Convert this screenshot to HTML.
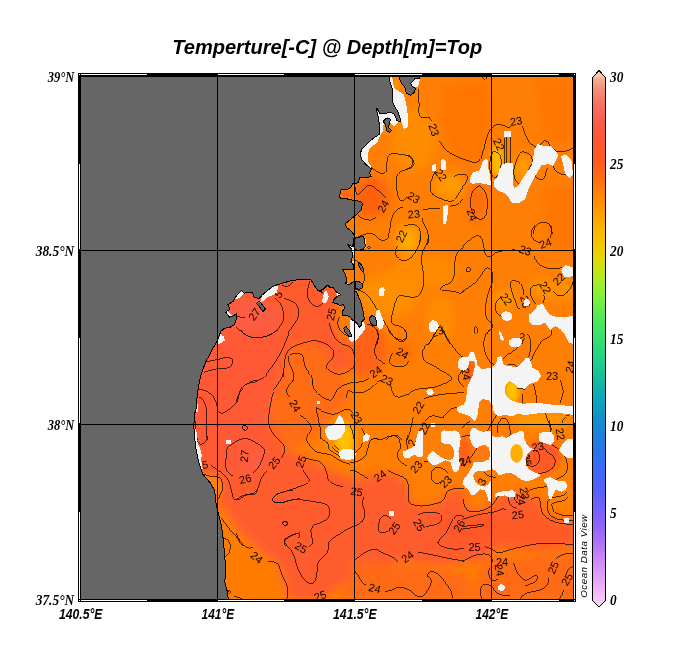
<!DOCTYPE html>
<html><head><meta charset="utf-8"><title>Temperture[-C] @ Depth[m]=Top</title>
<style>
html,body{margin:0;padding:0;background:#fff}
body{width:684px;height:660px;overflow:hidden;position:relative;font-family:"Liberation Sans",sans-serif}
svg{position:absolute;left:0;top:0;display:block}
.ax{font-family:"Liberation Serif",serif;font-weight:bold;font-style:italic;font-size:15px;fill:#000}
.xl{font-family:"Liberation Sans",sans-serif;font-weight:bold;font-style:italic;font-size:14px;fill:#000}
.cl{font-family:"Liberation Sans",sans-serif;font-size:11px;fill:#100000}
.ti{font-family:"Liberation Sans",sans-serif;font-weight:bold;font-style:italic;font-size:20px;fill:#000}
.odv{font-family:"Liberation Sans",sans-serif;font-style:italic;font-size:9.8px;fill:#000}
</style></head><body>
<svg style="will-change:transform" width="684" height="660" viewBox="0 0 684 660">
<defs>
<clipPath id="mc"><rect x="81" y="76" width="492" height="523"/></clipPath>
<filter id="bl" x="-20%" y="-20%" width="140%" height="140%"><feGaussianBlur stdDeviation="5"/></filter>
<filter id="bs" x="-20%" y="-20%" width="140%" height="140%"><feGaussianBlur stdDeviation="2.5"/></filter>
<linearGradient id="cb" x1="0" y1="0" x2="0" y2="1">
<stop offset="0.0000" stop-color="#F5CDA5"/><stop offset="0.0133" stop-color="#F5B496"/><stop offset="0.0333" stop-color="#F4907A"/><stop offset="0.0667" stop-color="#F76E5E"/><stop offset="0.1000" stop-color="#FA5A46"/><stop offset="0.1333" stop-color="#FF5630"/><stop offset="0.1667" stop-color="#FF5A20"/><stop offset="0.2000" stop-color="#FF6C10"/><stop offset="0.2333" stop-color="#FF8604"/><stop offset="0.2667" stop-color="#FF9E00"/><stop offset="0.3000" stop-color="#FAB800"/><stop offset="0.3333" stop-color="#F0CC00"/><stop offset="0.3567" stop-color="#DCDC0C"/><stop offset="0.3833" stop-color="#B4EC1C"/><stop offset="0.4167" stop-color="#84F234"/><stop offset="0.4500" stop-color="#5CEC50"/><stop offset="0.4833" stop-color="#40E468"/><stop offset="0.5167" stop-color="#2CDA7C"/><stop offset="0.5500" stop-color="#1CCC90"/><stop offset="0.5833" stop-color="#10B8A8"/><stop offset="0.6167" stop-color="#0CA4BC"/><stop offset="0.6500" stop-color="#1090CC"/><stop offset="0.6833" stop-color="#1C80DC"/><stop offset="0.7167" stop-color="#2C72EC"/><stop offset="0.7500" stop-color="#4068F6"/><stop offset="0.7833" stop-color="#5860FA"/><stop offset="0.8167" stop-color="#7460FA"/><stop offset="0.8500" stop-color="#9064F8"/><stop offset="0.8833" stop-color="#B074F8"/><stop offset="0.9167" stop-color="#D08CF8"/><stop offset="0.9500" stop-color="#E8A4F8"/><stop offset="0.9767" stop-color="#F4BCF8"/><stop offset="1.0000" stop-color="#FAD4F8"/></linearGradient>
</defs>
<rect x="0" y="0" width="684" height="660" fill="#fff"/>
<g clip-path="url(#mc)">
<rect x="81" y="76" width="492" height="523" fill="#FF7E04"/>
<g id="field" filter="url(#bl)">

<!-- bay red -->
<polygon points="185,270 336,270 338,300 334,316 340,340 356,352 352,370 330,372 328,352 312,341 292,345 283,365 282,380 271,395 269,420 281,440 285,450 300,455 330,470 355,480 388,472 400,478 408,486 409,500 413,505 425,507 440,503 447,494 456,489 464,489 464,500 468,510 477,512 485,510 491,506 496,500 500,495 515,494 531,497 540,499 541,506 545,516 553,521 562,523 580,524 580,545 540,550 500,548 480,560 440,565 400,560 370,575 340,585 320,600 290,600 282,580 268,565 255,556 240,540 225,520 185,460" fill="#FF5C2E"/>
<ellipse cx="250" cy="318" rx="28" ry="22" fill="#FC5C42"/>
<ellipse cx="247" cy="455" rx="20" ry="20" fill="#FC5C42"/>
<polygon points="205,330 280,330 275,390 268,430 230,480 205,460 190,420 195,370" fill="#FF5A34"/>
<!-- lower band variations -->
<polygon points="220,500 240,532 260,550 278,563 290,602 215,602" fill="#FF7C06"/>
<polygon points="484,560 540,556 580,552 580,602 470,602" fill="#FF6A12"/>
<polygon points="355,560 400,565 440,570 470,575 470,602 340,602" fill="#FF6A14"/>
<ellipse cx="470" cy="528" rx="30" ry="12" fill="#FF5628"/>
<ellipse cx="530" cy="530" rx="40" ry="16" fill="#FF5A28"/>
<!-- middle orange 24 tongue -->
<polygon points="292,345 312,341 328,352 330,372 345,378 350,400 330,420 310,440 290,450 281,440 269,420 271,395 282,380 283,365" fill="#FF6C14"/>
<!-- upper right features -->
<ellipse cx="342" cy="437" rx="15" ry="19" fill="#FF9800"/>
<ellipse cx="366" cy="350" rx="20" ry="28" fill="#FF6216"/>
<ellipse cx="505" cy="300" rx="11" ry="10" fill="#FF9800"/>
<ellipse cx="540" cy="288" rx="10" ry="9" fill="#FF9600"/>
<ellipse cx="425" cy="272" rx="35" ry="16" fill="#FF8A00"/>
<ellipse cx="371" cy="197" rx="18" ry="20" fill="#FF6008"/>
<polygon points="442,87 487,80 490,120 480,161 455,161 445,130" fill="#FF7400"/>
<ellipse cx="477" cy="203" rx="9" ry="20" fill="#FF6C08"/>
<polygon points="536,80 580,80 580,140 545,140" fill="#FF7600"/>
<polygon points="543,190 580,185 580,255 550,250" fill="#FF7600"/>
<ellipse cx="449" cy="186" rx="15" ry="13" fill="#FF9A00"/>
<ellipse cx="408" cy="240" rx="13" ry="16" fill="#FFA000"/>
<ellipse cx="413" cy="140" rx="22" ry="32" fill="#FF8C00"/>
<ellipse cx="390" cy="295" rx="30" ry="22" fill="#FF8E00"/>
<ellipse cx="440" cy="318" rx="14" ry="22" fill="#FF8C00"/>
<ellipse cx="402" cy="353" rx="12" ry="11" fill="#FF7000"/>
<ellipse cx="523" cy="168" rx="8" ry="13" fill="#FF9E00"/>
<ellipse cx="560" cy="290" rx="18" ry="12" fill="#FF9000"/>
<ellipse cx="540" cy="420" rx="30" ry="8" fill="#FF9A00"/>
</g>
<g id="field2" filter="url(#bs)">

<polygon points="200,473 217.7,476.8 221.8,481 222.3,489.3 220.2,494.3 218.5,502.7 212,495 205,485" fill="#FF8408"/>
<ellipse cx="470.5" cy="372" rx="5" ry="12" fill="#FF5E14"/>
<ellipse cx="464" cy="452" rx="7" ry="15" fill="#FF6218"/>
<ellipse cx="481" cy="452" rx="8" ry="8" fill="#FF7810"/>
<ellipse cx="543" cy="457" rx="17" ry="17" fill="#FF5A28"/>
<ellipse cx="497" cy="160" rx="6" ry="16" fill="#FFBC00"/>
<ellipse cx="512" cy="391" rx="7" ry="11" fill="#FFC400"/>
<ellipse cx="345" cy="439" rx="9" ry="14" fill="#FFC000"/>
<ellipse cx="345" cy="194" rx="6" ry="5" fill="#FF6418"/>
<ellipse cx="408" cy="241" rx="6" ry="8" fill="#FFAC00"/>
<ellipse cx="383" cy="125" rx="3" ry="6" fill="#FFB000"/>
<ellipse cx="396" cy="86" rx="2" ry="9" fill="#FFA000"/>
</g>
<g id="cont" fill="none" stroke="#000" stroke-width="0.7" shape-rendering="crispEdges">
<path d="M418.0 88.8C418.2 91.0 418.7 97.9 419.0 102.5C419.3 107.1 418.2 113.8 419.8 116.2C421.3 118.8 426.5 116.7 428.5 117.5C430.5 118.3 431.2 120.6 431.8 121.2"/>
<path d="M439.8 141.2C440.8 142.7 443.3 147.5 446.0 150.0C448.7 152.5 452.5 154.5 456.0 156.2C459.5 158.0 463.9 159.5 467.2 160.5C470.6 161.5 473.7 163.0 476.0 162.5C478.3 162.0 479.7 160.0 481.0 157.5C482.3 155.0 483.0 151.0 484.0 147.5C485.0 144.0 486.1 139.4 487.2 136.2C488.4 133.1 489.3 130.7 491.0 128.8C492.7 126.8 495.2 125.0 497.2 124.5C499.3 124.0 501.6 125.0 503.5 125.5C505.4 126.0 507.2 127.5 508.5 127.5C509.8 127.5 510.6 125.8 511.0 125.5"/>
<path d="M522.2 126.2C522.7 127.3 523.7 130.0 524.8 132.5C525.8 135.0 526.8 139.0 528.5 141.2C530.2 143.5 532.9 145.6 534.8 146.2C536.6 146.9 538.4 145.7 539.8 145.0C541.1 144.3 542.0 142.7 543.0 142.0C544.0 141.3 544.9 140.3 546.0 140.8C547.1 141.2 548.5 143.0 549.8 144.5C551.0 146.0 551.8 148.2 553.5 149.5C555.2 150.8 557.5 151.8 559.8 152.0C562.0 152.2 565.0 151.2 567.2 150.5C569.5 149.8 572.5 148.4 573.5 148.0"/>
<path d="M406.0 155.0C407.0 155.6 410.9 157.3 412.2 158.8C413.6 160.2 414.2 162.2 414.0 163.8C413.8 165.3 412.3 167.0 411.0 168.0C409.7 169.0 406.8 169.2 406.0 169.5"/>
<path d="M435.5 171.2C435.0 172.3 433.1 175.0 432.2 177.5C431.4 180.0 430.2 183.5 430.2 186.2C430.2 189.0 430.5 191.7 432.2 193.8C434.0 195.8 437.9 197.5 441.0 198.8C444.1 200.0 448.3 201.7 451.0 201.2C453.7 200.8 455.4 198.5 457.2 196.2C459.1 194.0 460.6 190.2 462.2 187.5C463.9 184.8 466.6 182.1 467.2 180.0C467.9 177.9 467.2 175.9 466.0 175.0C464.8 174.1 461.8 174.3 459.8 174.5C457.7 174.7 454.5 176.0 453.5 176.2"/>
<path d="M492.2 152.5C491.0 154.2 490.0 159.2 489.8 162.5C489.5 165.8 489.7 169.9 490.5 172.5C491.3 175.1 493.4 177.8 494.8 178.0C496.1 178.2 497.5 175.9 498.5 173.8C499.5 171.6 500.7 167.9 501.0 165.0C501.3 162.1 501.1 158.3 500.5 156.2C499.9 154.2 498.6 153.1 497.2 152.5C495.9 151.9 493.5 150.8 492.2 152.5Z"/>
<path d="M504.2 137.5 L504.2 163.8"/>
<path d="M506.8 136.2 L506.8 163.8"/>
<path d="M510.5 135.5 L510.5 163.8"/>
<path d="M521.0 152.5C519.5 153.5 518.4 156.0 517.2 158.8C516.1 161.5 514.4 165.4 514.0 168.8C513.6 172.1 513.8 176.1 514.8 178.8C515.7 181.4 518.1 183.9 519.8 184.5C521.4 185.1 523.3 184.9 524.8 182.5C526.2 180.1 527.2 173.3 528.5 170.0C529.8 166.7 531.8 164.8 532.2 162.5C532.7 160.2 532.0 157.9 531.0 156.2C530.0 154.6 527.7 153.1 526.0 152.5C524.3 151.9 522.5 151.5 521.0 152.5Z"/>
<path d="M534.8 176.2C535.8 176.9 539.3 180.0 541.0 180.0C542.7 180.0 543.7 178.3 544.8 176.2C545.8 174.2 546.8 169.0 547.2 167.5"/>
<path d="M553.5 166.2C553.9 167.1 554.5 169.9 556.0 171.2C557.5 172.6 560.6 173.9 562.2 174.5C563.9 175.1 565.4 174.9 566.0 175.0"/>
<path d="M478.5 186.2C477.2 187.0 474.3 189.0 473.0 191.2C471.7 193.5 470.8 196.9 470.5 200.0C470.2 203.1 470.6 207.1 471.5 210.0C472.4 212.9 474.2 216.0 476.0 217.5C477.8 219.0 480.5 220.1 482.2 219.2C484.0 218.4 485.7 215.7 486.5 212.5C487.3 209.3 487.5 203.5 487.2 200.0C487.0 196.5 485.8 193.5 484.8 191.2C483.7 189.0 482.0 187.6 481.0 186.8C480.0 185.9 479.8 185.5 478.5 186.2Z"/>
<path d="M449.8 206.2C451.0 206.0 455.0 205.8 457.2 204.5C459.5 203.2 462.0 199.7 463.0 198.8"/>
<path d="M533.5 233.8C533.7 232.7 533.7 229.3 534.8 227.5C535.8 225.7 537.9 223.8 539.8 223.0C541.6 222.2 544.1 222.0 546.0 222.5C547.9 223.0 550.0 224.4 551.0 226.2C552.0 228.1 552.0 232.5 552.2 233.8"/>
<path d="M482.2 77.0C482.7 77.4 483.9 79.5 484.8 79.5C485.6 79.5 486.8 77.4 487.2 77.0"/>
<path d="M371.4 167.5C372.3 168.2 374.7 170.2 376.5 171.2C378.4 172.2 380.8 173.5 382.4 173.4C384.0 173.3 385.3 172.2 386.1 170.5C386.8 168.8 386.4 165.5 386.8 163.2C387.1 160.8 387.4 158.2 388.2 156.6C389.1 155.0 390.2 154.1 391.9 153.7C393.6 153.2 396.2 153.8 398.5 154.1C400.8 154.3 403.7 154.7 405.8 155.1C407.9 155.5 409.7 155.6 410.9 156.6C412.1 157.6 412.7 159.4 412.8 161.0C412.9 162.5 412.6 164.7 411.6 166.1C410.7 167.4 409.0 168.2 407.3 169.0C405.5 169.9 403.0 170.3 401.4 171.2C399.8 172.1 398.6 172.8 397.7 174.1C396.9 175.5 396.5 176.9 396.3 179.2C396.1 181.6 396.5 185.3 396.7 188.0C397.0 190.7 397.1 193.3 397.7 195.3C398.4 197.4 399.6 199.7 400.7 200.4C401.8 201.2 403.2 200.3 404.3 199.7C405.4 199.1 406.8 197.3 407.3 196.8"/>
<path d="M355.4 187.3C355.5 188.1 355.6 191.2 356.1 192.4C356.6 193.6 357.3 194.8 358.3 194.6C359.2 194.3 360.6 192.3 361.9 190.9C363.3 189.6 365.0 187.5 366.3 186.5C367.7 185.6 368.5 184.8 370.0 185.1C371.4 185.3 373.3 186.7 375.1 188.0C376.9 189.4 379.2 191.5 380.9 193.1C382.6 194.7 384.6 196.8 385.3 197.5"/>
<path d="M358.3 215.8C359.1 216.3 361.4 218.0 363.4 218.7C365.3 219.4 368.1 220.2 370.0 220.2C371.8 220.1 373.3 219.0 374.4 218.4C375.5 217.8 376.2 216.8 376.5 216.5"/>
<path d="M388.2 237.7C388.5 236.3 389.2 231.9 389.7 228.9C390.2 226.0 390.3 223.0 391.2 220.2C392.0 217.4 393.5 214.1 394.8 212.1C396.2 210.1 397.9 208.9 399.2 208.2C400.6 207.5 402.3 207.8 402.9 207.7"/>
<path d="M423.3 209.6C424.6 209.5 427.9 209.0 430.6 208.8C433.4 208.5 438.4 208.3 440.0 208.2"/>
<path d="M421.9 218.0C422.2 219.1 423.2 222.5 424.1 224.6C424.9 226.6 426.3 228.2 427.0 230.4C427.7 232.6 428.3 235.3 428.5 237.7C428.6 240.2 427.8 243.8 427.7 245.0"/>
<path d="M404.3 226.0C405.3 225.8 408.2 224.7 410.2 224.6C412.1 224.4 414.4 224.4 416.0 225.3C417.6 226.1 418.9 227.9 419.7 229.7C420.4 231.5 420.4 233.7 420.4 236.3C420.4 238.8 419.8 243.6 419.7 245.0"/>
<path d="M354.6 237.7C355.4 237.5 357.4 236.7 359.0 236.3C360.6 235.8 362.4 235.3 364.1 234.8C365.8 234.3 367.5 233.3 369.2 233.3C370.9 233.3 372.7 233.8 374.4 234.8C376.1 235.8 377.9 238.2 379.5 239.2C381.1 240.2 382.4 240.9 383.9 240.6C385.3 240.4 387.5 238.2 388.2 237.7"/>
<path d="M397.5 245.8C397.1 246.8 395.3 249.7 395.3 251.7C395.3 253.6 396.2 256.0 397.5 257.5C398.8 259.0 401.2 260.7 403.3 260.8C405.4 261.0 407.9 259.9 410.0 258.3C412.1 256.8 414.3 254.0 415.8 251.7C417.4 249.3 418.3 246.9 419.2 244.2C420.0 241.4 420.6 236.5 420.8 235.0"/>
<path d="M428.3 235.0C428.2 236.1 428.2 239.4 427.5 241.7C426.8 243.9 425.1 246.1 424.2 248.3C423.2 250.6 422.4 252.5 422.0 255.0C421.6 257.5 421.4 260.3 421.7 263.3C421.9 266.4 423.1 269.7 423.3 273.3C423.6 276.9 423.8 281.8 423.3 285.0C422.9 288.2 421.9 290.6 420.8 292.5C419.7 294.4 418.5 295.9 416.7 296.7C414.9 297.4 412.2 297.1 410.0 297.0C407.8 296.9 405.3 295.9 403.3 295.8C401.4 295.8 399.7 295.4 398.3 296.7C396.9 297.9 396.0 300.6 395.0 303.3C394.0 306.1 393.1 310.6 392.5 313.3C391.9 316.1 391.2 318.2 391.3 320.0C391.4 321.8 391.8 323.2 393.0 324.2C394.2 325.1 396.6 325.1 398.3 325.8C400.1 326.5 401.9 327.1 403.3 328.3C404.7 329.6 406.2 331.5 406.7 333.3C407.1 335.1 406.7 337.8 405.8 339.2C405.0 340.6 403.2 341.7 401.7 341.7C400.1 341.7 398.2 340.3 396.7 339.2C395.1 338.1 393.8 336.5 392.5 335.0C391.2 333.5 390.3 331.8 389.2 330.0C388.1 328.2 387.5 326.9 385.8 324.2C384.2 321.4 381.0 316.4 379.2 313.3C377.4 310.3 376.5 308.3 375.0 305.8C373.5 303.3 371.7 300.4 370.0 298.3C368.3 296.2 366.9 294.7 365.0 293.3C363.1 291.9 360.0 290.6 358.3 290.0C356.7 289.4 355.6 290.0 355.0 290.0"/>
<path d="M464.0 247.5C463.2 248.1 460.5 249.3 459.2 250.8C457.8 252.4 456.6 254.3 455.8 256.7C455.1 259.0 454.9 261.9 454.7 265.0C454.4 268.1 454.8 272.1 454.2 275.0C453.5 277.9 452.4 280.8 450.8 282.5C449.3 284.2 446.7 284.1 445.0 285.0C443.3 285.9 441.2 287.0 440.8 288.0C440.4 289.0 441.2 290.4 442.5 290.8C443.8 291.3 446.2 290.7 448.3 290.8C450.4 291.0 453.1 291.2 455.0 291.7C456.9 292.1 458.5 293.3 460.0 293.3C461.5 293.3 463.3 291.9 464.0 291.7"/>
<path d="M428.3 345.0C429.2 343.6 431.9 339.0 433.3 336.7C434.7 334.3 435.4 332.6 436.7 330.8C437.9 329.0 439.4 325.1 440.8 325.8C442.2 326.5 443.5 331.9 445.0 335.0C446.5 338.1 449.2 342.6 450.0 344.2"/>
<path d="M355.0 260.0C355.8 260.6 358.6 261.7 360.0 263.3C361.4 265.0 362.6 267.6 363.3 270.0C364.0 272.4 364.2 275.3 364.2 277.5C364.2 279.7 364.3 282.1 363.3 283.3C362.4 284.6 359.7 284.9 358.3 285.0C356.9 285.1 355.6 284.3 355.0 284.2"/>
<path d="M366.7 324.2C367.5 324.4 370.0 324.9 371.7 325.8C373.3 326.8 375.6 327.9 376.7 330.0C377.8 332.1 378.3 335.8 378.3 338.3C378.3 340.8 376.9 343.9 376.7 345.0"/>
<path d="M367.5 247.5C367.5 247.1 368.2 246.4 368.7 246.3C369.1 246.2 370.1 246.7 370.3 247.0C370.6 247.3 370.6 248.0 370.3 248.3C370.1 248.6 369.1 249.0 368.7 248.8C368.2 248.7 367.5 247.9 367.5 247.5Z"/>
<path d="M535.3 225.0C534.8 225.8 532.6 228.2 532.0 230.0C531.4 231.8 531.1 234.0 531.7 235.8C532.2 237.6 534.0 239.7 535.3 240.8C536.6 241.9 538.8 242.2 539.5 242.5"/>
<path d="M550.3 237.5C550.6 236.4 552.1 232.9 552.0 230.8C551.9 228.8 549.9 226.0 549.5 225.0"/>
<path d="M462.0 246.7C463.1 245.7 466.6 242.5 468.7 240.8C470.8 239.2 472.8 237.5 474.5 236.7C476.2 235.8 477.4 235.4 478.7 235.8C479.9 236.2 481.2 237.4 482.0 239.2C482.8 241.0 483.1 244.2 483.7 246.7C484.2 249.2 484.5 252.5 485.3 254.2C486.2 255.8 487.6 256.4 488.7 256.7C489.7 256.9 490.4 256.5 491.7 255.8C492.9 255.1 494.3 253.3 496.2 252.5C498.0 251.7 500.2 251.2 502.8 250.8C505.5 250.4 509.9 250.2 512.0 250.0C514.1 249.8 514.8 249.7 515.3 249.7"/>
<path d="M534.0 255.8C534.4 256.7 535.0 259.2 536.2 260.8C537.4 262.5 539.1 264.6 541.2 265.8C543.2 267.1 546.0 267.9 548.7 268.3C551.3 268.8 554.8 268.8 557.0 268.7C559.2 268.5 561.2 267.7 562.0 267.5"/>
<path d="M462.0 291.7C463.1 291.0 466.3 289.2 468.7 287.5C471.0 285.8 474.1 283.8 476.2 281.7C478.2 279.6 479.5 277.2 481.2 275.0C482.8 272.8 484.6 269.3 486.2 268.3C487.7 267.4 489.2 268.1 490.3 269.2C491.4 270.3 492.6 272.6 492.8 275.0C493.1 277.4 492.7 280.6 492.0 283.3C491.3 286.1 489.6 288.6 488.7 291.7C487.7 294.7 486.7 298.3 486.2 301.7C485.6 305.0 485.2 308.8 485.3 311.7C485.5 314.6 486.0 317.2 487.0 319.2C488.0 321.1 490.2 322.1 491.2 323.3C492.1 324.6 493.1 325.4 492.8 326.7C492.6 327.9 490.8 329.4 489.5 330.8C488.2 332.2 486.0 334.3 485.3 335.0"/>
<path d="M466.2 269.2C466.4 268.6 467.2 267.6 467.8 267.5C468.5 267.4 469.6 267.8 470.0 268.3C470.4 268.9 470.4 270.2 470.0 270.8C469.6 271.4 468.4 272.0 467.8 272.0C467.2 272.0 466.6 271.5 466.3 271.0C466.1 270.5 465.9 269.8 466.2 269.2Z"/>
<path d="M502.0 296.7C501.3 297.2 498.9 298.5 497.8 300.0C496.7 301.5 495.6 303.9 495.3 305.8C495.1 307.8 495.3 310.0 496.2 311.7C497.0 313.3 499.1 315.6 500.3 315.8C501.6 316.1 503.1 313.8 503.7 313.3"/>
<path d="M520.3 309.2C519.9 308.9 518.5 308.5 517.8 307.5C517.1 306.5 516.9 305.1 516.2 303.3C515.5 301.5 514.5 299.0 513.7 296.7C512.8 294.3 511.7 291.5 511.2 289.2C510.6 286.8 509.9 283.9 510.3 282.5C510.8 281.1 512.1 280.8 513.7 280.8C515.2 280.8 518.0 281.2 519.5 282.5C521.0 283.8 522.1 286.2 522.8 288.3C523.5 290.4 523.5 293.9 523.7 295.0"/>
<path d="M536.2 304.2C535.6 303.5 533.8 301.5 532.8 300.0C531.9 298.5 531.1 296.8 530.7 295.0C530.2 293.2 529.8 290.7 530.3 289.2C530.8 287.6 532.3 286.6 533.7 285.8C535.1 285.1 537.8 284.9 538.7 284.7"/>
<path d="M543.7 295.0C543.8 295.7 544.8 297.8 544.5 299.2C544.2 300.6 542.4 302.6 542.0 303.3"/>
<path d="M552.8 290.8C553.5 291.5 555.5 294.2 557.0 295.0C558.5 295.8 560.3 296.2 562.0 295.8C563.7 295.4 565.5 294.0 567.0 292.5C568.5 291.0 570.2 288.5 571.2 286.7C572.1 284.9 572.6 282.5 572.8 281.7"/>
<path d="M474.5 327.5C474.7 326.5 475.2 326.3 475.7 326.3C476.1 326.3 476.8 326.5 477.0 327.5C477.2 328.5 477.2 331.5 477.0 332.5C476.8 333.5 476.1 333.7 475.7 333.7C475.2 333.7 474.7 333.5 474.5 332.5C474.3 331.5 474.3 328.5 474.5 327.5Z"/>
<path d="M377.5 330.0C377.6 331.1 378.6 334.3 378.3 336.7C378.1 339.0 376.4 341.7 375.8 344.2C375.2 346.7 374.5 349.4 374.7 351.7C374.8 353.9 375.5 355.8 376.7 357.5C377.8 359.2 380.3 360.6 381.7 361.7C383.1 362.8 384.4 363.8 385.0 364.2"/>
<path d="M369.2 377.5C368.5 378.1 366.7 380.1 365.0 380.8C363.3 381.6 360.9 381.8 359.2 382.0C357.4 382.2 356.0 381.9 354.5 382.0C353.0 382.1 350.8 382.4 350.0 382.5"/>
<path d="M393.0 352.5C392.6 353.3 390.8 355.8 390.3 357.5C389.8 359.2 389.4 361.1 390.0 362.5C390.6 363.9 392.0 365.1 393.7 365.8C395.3 366.6 398.0 367.1 400.0 367.0C402.0 366.9 404.4 365.9 405.8 365.0C407.3 364.1 408.2 361.9 408.7 361.3"/>
<path d="M388.3 330.0C388.9 330.8 390.0 333.5 391.7 335.0C393.3 336.5 396.4 338.3 398.3 339.2C400.3 340.0 401.9 340.4 403.3 340.0C404.7 339.6 406.2 338.1 406.7 336.7C407.1 335.3 406.2 332.8 405.8 331.7C405.4 330.6 404.4 330.3 404.2 330.0"/>
<path d="M350.0 391.7C351.1 391.8 354.2 392.5 356.7 392.5C359.2 392.5 362.5 392.5 365.0 391.7C367.5 390.8 369.7 389.0 371.7 387.5C373.6 386.0 375.1 383.8 376.7 382.5C378.2 381.2 380.1 380.4 380.8 380.0"/>
<path d="M390.8 385.0C391.0 386.0 391.0 389.0 391.7 390.8C392.4 392.6 393.6 394.8 395.0 395.8C396.4 396.9 397.9 397.3 400.0 397.0C402.1 396.7 405.0 395.3 407.5 394.2C410.0 393.0 412.2 391.0 415.0 390.0C417.8 389.0 421.1 388.8 424.2 388.3C427.2 387.9 430.6 388.1 433.3 387.5C436.1 386.9 438.3 386.0 440.8 385.0C443.3 384.0 446.5 382.8 448.3 381.7C450.1 380.6 451.8 379.6 451.7 378.3C451.5 377.1 449.4 375.6 447.5 374.2C445.6 372.8 442.2 371.4 440.0 370.0C437.8 368.6 436.1 366.9 434.2 365.8C432.2 364.7 430.0 364.3 428.3 363.3C426.7 362.4 425.1 361.7 424.2 360.0C423.2 358.3 422.5 355.4 422.5 353.3C422.5 351.2 423.1 349.3 424.2 347.5C425.3 345.7 427.8 344.0 429.2 342.5C430.6 341.0 431.8 339.7 432.5 338.3C433.2 336.9 433.2 334.9 433.3 334.2"/>
<path d="M443.3 330.0C444.2 331.7 446.5 336.9 448.3 340.0C450.1 343.1 452.2 345.8 454.2 348.3C456.1 350.8 458.4 353.5 460.0 355.0C461.6 356.5 463.3 357.1 464.0 357.5"/>
<path d="M424.2 398.7C425.7 398.2 430.1 396.6 433.3 395.8C436.5 395.1 440.0 394.6 443.3 394.2C446.7 393.8 449.9 393.6 453.3 393.3C456.8 393.1 462.2 392.6 464.0 392.5"/>
<path d="M413.3 416.7C413.1 417.9 412.2 421.7 411.7 424.2C411.1 426.7 410.7 429.0 410.0 431.7C409.3 434.3 407.9 438.6 407.5 440.0"/>
<path d="M425.8 420.8C426.2 420.3 427.1 418.3 428.3 417.5C429.6 416.7 431.7 416.0 433.3 415.8C435.0 415.7 436.8 416.4 438.3 416.7C439.9 416.9 441.1 418.1 442.5 417.5C443.9 416.9 445.3 414.7 446.7 413.3C448.1 411.9 449.2 410.1 450.8 409.2C452.5 408.2 455.7 407.8 456.7 407.5"/>
<path d="M350.0 410.0 L353.3 413.3"/>
<path d="M350.0 425.0C350.4 426.1 351.8 429.2 352.5 431.7C353.2 434.2 353.9 438.6 354.2 440.0"/>
<path d="M361.7 427.5C362.1 428.5 363.3 431.8 364.2 433.3C365.0 434.9 366.2 436.1 366.7 436.7"/>
<path d="M350.0 346.7C350.6 347.5 352.5 349.4 353.3 351.7C354.2 353.9 355.0 357.4 355.0 360.0C355.0 362.6 354.2 366.0 353.3 367.5C352.5 369.0 350.6 368.9 350.0 369.2"/>
<path d="M464.0 386.7C463.3 386.1 460.9 384.7 460.0 383.3C459.1 381.9 458.3 380.1 458.3 378.3C458.3 376.5 459.1 373.6 460.0 372.5C460.9 371.4 463.3 371.8 464.0 371.7"/>
<path d="M370.8 440.0C371.5 439.7 373.6 438.3 375.0 438.3C376.4 438.3 378.5 439.7 379.2 440.0"/>
<path d="M385.8 440.0C386.5 439.4 388.5 437.4 390.0 436.7C391.5 435.9 393.5 435.3 395.0 435.3C396.5 435.3 398.1 435.9 399.2 436.7C400.3 437.4 401.2 439.4 401.7 440.0"/>
<path d="M489.5 330.0C489.1 330.4 487.8 331.1 487.0 332.5C486.2 333.9 485.1 336.2 484.5 338.3C483.9 340.4 483.5 342.5 483.7 345.0C483.8 347.5 484.5 350.8 485.3 353.3C486.2 355.8 487.6 358.3 488.7 360.0C489.7 361.7 490.6 362.4 491.7 363.3C492.8 364.3 494.7 365.4 495.3 365.8"/>
<path d="M502.8 359.2C503.5 358.5 505.5 356.2 507.0 355.0C508.5 353.8 510.5 352.6 512.0 351.7C513.5 350.7 514.9 350.1 516.2 349.2C517.4 348.2 518.5 346.9 519.5 345.8C520.5 344.7 521.2 343.9 522.0 342.5C522.8 341.1 524.1 338.3 524.5 337.5"/>
<path d="M527.8 334.2C528.2 335.1 529.9 337.6 530.3 340.0C530.8 342.4 530.9 345.6 530.7 348.3C530.4 351.1 529.0 355.3 528.7 356.7"/>
<path d="M552.0 330.0C551.9 330.8 552.0 333.6 551.2 335.0C550.3 336.4 548.5 337.4 547.0 338.3C545.5 339.3 543.4 339.6 542.0 340.8C540.6 342.1 539.8 344.0 538.7 345.8C537.6 347.6 536.4 349.7 535.3 351.7C534.2 353.6 532.8 355.8 532.0 357.5C531.2 359.2 530.6 361.0 530.3 361.7"/>
<path d="M507.8 365.0C508.7 364.9 511.3 363.9 512.8 364.2C514.4 364.4 515.9 365.8 517.0 366.7C518.1 367.5 519.1 368.8 519.5 369.2"/>
<path d="M517.0 388.3C517.7 388.4 519.8 388.4 521.2 388.7C522.6 388.9 524.6 389.5 525.3 389.7"/>
<path d="M522.3 394.2 L522.0 403.3"/>
<path d="M533.7 384.2C533.9 385.4 534.8 389.3 535.3 391.7C535.8 394.0 536.4 396.4 536.7 398.3C536.9 400.3 536.9 402.5 537.0 403.3"/>
<path d="M560.3 380.0C560.6 381.0 561.5 383.9 562.0 385.8C562.5 387.8 563.2 389.9 563.2 391.7C563.2 393.5 562.5 394.9 562.0 396.7C561.5 398.5 560.6 401.5 560.3 402.5"/>
<path d="M545.3 412.5C545.6 413.5 546.3 416.4 547.0 418.3C547.7 420.3 548.9 422.2 549.5 424.2C550.1 426.1 550.1 427.4 550.3 430.0C550.6 432.6 551.0 438.3 551.2 440.0"/>
<path d="M562.0 422.5C562.4 421.7 563.4 418.8 564.5 417.5C565.6 416.2 567.3 415.6 568.7 415.0C570.1 414.4 572.1 414.3 572.8 414.2"/>
<path d="M491.7 423.3C492.1 422.5 493.6 419.7 494.5 418.3C495.4 416.9 496.6 415.6 497.0 415.0"/>
<path d="M497.8 433.3C497.8 431.9 497.3 427.4 497.8 425.0C498.4 422.6 499.9 420.3 501.2 419.2C502.4 418.1 504.1 417.6 505.3 418.3C506.6 419.0 507.8 421.1 508.7 423.3C509.5 425.6 510.2 429.4 510.3 431.7C510.5 433.9 509.6 435.8 509.5 436.7"/>
<path d="M462.0 427.5C462.8 426.8 465.6 424.4 467.0 423.3C468.4 422.2 469.8 421.2 470.3 420.8"/>
<path d="M487.0 431.7C487.4 430.8 488.7 428.1 489.5 426.7C490.3 425.3 491.3 423.9 491.7 423.3"/>
<path d="M350.0 462.5C351.1 462.4 354.6 462.4 356.7 461.7C358.8 461.0 360.8 459.9 362.5 458.3C364.2 456.8 365.6 454.7 366.7 452.5C367.7 450.3 368.0 447.1 368.7 445.0C369.4 442.9 369.6 441.1 370.8 440.0C372.0 438.9 374.2 438.3 375.8 438.3C377.5 438.3 379.2 440.1 380.8 440.0C382.5 439.9 384.0 438.2 385.8 437.5C387.6 436.8 389.9 436.0 391.7 435.8C393.5 435.7 395.3 435.8 396.7 436.7C398.0 437.5 399.1 439.0 399.7 440.8C400.2 442.6 400.4 445.4 400.0 447.5C399.6 449.6 397.8 451.5 397.5 453.3C397.2 455.1 397.3 456.8 398.0 458.3C398.7 459.9 400.2 461.2 401.7 462.5C403.1 463.8 405.8 465.3 406.7 465.8"/>
<path d="M424.2 461.7 L428.3 461.3"/>
<path d="M350.0 470.0C351.1 470.3 354.4 471.0 356.7 472.0C358.9 473.0 361.4 474.6 363.3 475.8C365.3 477.0 367.5 478.6 368.3 479.2"/>
<path d="M388.3 470.8C389.2 471.2 391.4 472.5 393.3 473.3C395.3 474.2 397.9 474.9 400.0 475.8C402.1 476.8 404.4 477.6 405.8 479.2C407.2 480.7 407.9 482.6 408.3 485.0C408.8 487.4 408.3 490.7 408.3 493.3C408.4 496.0 408.1 499.0 408.7 500.8C409.2 502.6 410.1 503.3 411.7 504.2C413.3 505.0 416.1 505.6 418.3 505.8C420.6 506.1 422.5 506.1 425.0 505.8C427.5 505.6 430.8 504.7 433.3 504.2C435.8 503.6 438.2 503.3 440.0 502.5C441.8 501.7 443.2 500.6 444.2 499.2C445.1 497.8 445.1 495.6 445.8 494.2C446.5 492.8 446.8 491.8 448.3 490.8C449.9 489.9 452.4 489.1 455.0 488.7C457.6 488.2 462.5 488.1 464.0 488.0"/>
<path d="M364.2 496.7C363.9 497.8 362.5 501.1 362.5 503.3C362.5 505.6 363.8 507.8 364.2 510.0C364.5 512.2 365.1 514.7 364.7 516.7C364.2 518.6 363.1 520.1 361.7 521.7C360.2 523.2 357.8 524.9 355.8 525.8C353.9 526.8 351.0 527.2 350.0 527.5"/>
<path d="M440.8 482.5C440.0 482.6 437.3 483.8 435.8 483.3C434.4 482.9 432.8 481.5 432.0 480.0C431.2 478.5 431.1 476.0 431.3 474.2C431.6 472.4 432.2 470.3 433.3 469.2C434.5 468.1 436.7 467.5 438.3 467.5C440.0 467.5 441.8 468.3 443.3 469.2C444.9 470.0 446.8 471.9 447.5 472.5"/>
<path d="M390.8 518.3C390.3 518.0 388.8 516.8 387.5 516.3C386.2 515.9 384.6 515.4 383.3 515.8C382.1 516.3 380.8 517.6 380.0 519.2C379.2 520.7 378.8 522.9 378.7 525.0C378.5 527.1 378.5 530.4 379.2 531.7C379.8 532.9 381.1 532.5 382.5 532.5C383.9 532.5 386.7 531.8 387.5 531.7"/>
<path d="M425.8 526.7C426.5 526.5 428.3 526.2 430.0 525.8C431.7 525.5 434.0 525.4 435.8 524.7C437.6 524.0 439.9 523.0 440.8 521.7C441.8 520.3 442.1 518.1 441.7 516.7C441.2 515.3 440.0 514.1 438.3 513.3C436.7 512.6 434.2 512.1 431.7 512.0C429.2 511.9 425.6 512.5 423.3 513.0C421.1 513.5 419.2 514.7 418.3 515.0"/>
<path d="M436.7 543.3C437.4 542.5 439.2 540.3 440.8 538.3C442.5 536.4 445.0 534.2 446.7 531.7C448.3 529.2 449.6 525.7 450.8 523.3C452.1 521.0 452.9 518.9 454.2 517.5C455.4 516.1 456.7 515.1 458.3 515.0C460.0 514.9 463.1 516.4 464.0 516.7"/>
<path d="M407.5 435.0C407.4 436.1 406.7 439.3 406.7 441.7C406.7 444.0 407.4 447.9 407.5 449.2"/>
<path d="M362.5 443.3C362.1 444.2 361.0 446.9 360.0 448.3C359.0 449.7 357.6 450.8 356.7 451.7C355.8 452.5 354.9 453.1 354.5 453.3"/>
<path d="M463.7 499.2C463.8 500.3 463.7 503.9 464.5 505.8C465.3 507.8 466.7 509.9 468.7 510.8C470.6 511.8 473.7 511.8 476.2 511.7C478.7 511.5 481.3 510.8 483.7 510.0C486.0 509.2 488.4 508.2 490.3 506.7C492.3 505.1 493.9 502.6 495.3 500.8C496.7 499.0 498.1 496.7 498.7 495.8"/>
<path d="M462.0 519.2C463.1 518.9 466.2 518.2 468.7 517.5C471.2 516.8 474.2 515.7 477.0 515.0C479.8 514.3 482.9 513.8 485.3 513.3C487.8 512.9 489.6 512.9 491.7 512.5C493.8 512.1 496.0 511.5 497.8 510.8C499.7 510.2 501.5 508.8 502.8 508.7C504.1 508.5 505.2 509.8 505.7 510.0"/>
<path d="M462.0 529.2C463.4 529.0 467.6 528.4 470.3 528.0C473.1 527.6 476.5 527.1 478.7 526.7C480.8 526.2 482.6 525.9 483.3 525.5C484.0 525.1 483.9 524.2 482.8 524.2C481.8 524.1 479.4 524.7 477.0 525.0C474.6 525.3 471.2 525.5 468.7 525.8C466.2 526.2 463.1 526.8 462.0 527.0"/>
<path d="M484.5 546.7C485.3 546.9 487.8 547.6 489.5 548.3C491.2 549.0 493.1 550.1 494.5 550.8C495.9 551.6 496.3 552.9 497.8 553.0C499.4 553.1 501.3 552.3 503.7 551.7C506.0 551.0 508.9 550.0 512.0 549.2C515.1 548.3 518.7 547.4 522.0 546.7C525.3 545.9 528.7 545.2 532.0 544.7C535.3 544.1 538.7 543.6 542.0 543.3C545.3 543.1 548.7 542.9 552.0 543.0C555.3 543.1 558.5 543.3 562.0 543.7C565.5 544.0 571.0 544.8 572.8 545.0"/>
<path d="M531.2 499.2C531.9 498.9 533.9 497.6 535.3 497.5C536.7 497.4 538.7 497.1 539.5 498.3C540.3 499.6 539.9 502.8 540.3 505.0C540.8 507.2 541.2 509.7 542.0 511.7C542.8 513.6 543.7 515.1 545.3 516.7C547.0 518.2 549.5 519.7 552.0 520.8C554.5 521.9 557.6 522.8 560.3 523.3C563.1 523.9 566.6 524.0 568.7 524.2C570.8 524.3 572.1 524.2 572.8 524.2"/>
<path d="M567.0 491.7C566.4 492.2 565.1 494.2 563.7 495.0C562.3 495.8 560.5 496.2 558.7 496.7C556.9 497.1 554.5 496.9 552.8 497.5C551.2 498.1 549.6 498.8 548.7 500.0C547.7 501.2 547.1 503.2 547.0 505.0C546.9 506.8 547.1 509.0 547.8 510.8C548.5 512.6 549.5 514.4 551.2 515.8C552.8 517.2 555.5 518.4 557.8 519.2C560.2 519.9 562.8 520.2 565.3 520.3C567.8 520.5 571.6 520.1 572.8 520.0"/>
<path d="M567.8 497.5C567.1 498.1 565.5 500.1 563.7 500.8C561.9 501.5 558.9 501.1 557.0 501.7C555.1 502.2 552.7 503.1 552.0 504.2C551.3 505.3 552.3 506.9 552.8 508.3C553.4 509.7 553.8 511.4 555.3 512.5C556.9 513.6 559.8 514.4 562.0 515.0C564.2 515.6 566.9 515.8 568.7 515.8C570.5 515.8 572.1 515.1 572.8 515.0"/>
<path d="M507.8 496.7C508.1 497.6 508.7 500.8 509.5 502.5C510.3 504.2 511.6 505.7 512.8 506.7C514.1 507.6 516.3 508.1 517.0 508.3"/>
<path d="M513.7 496.7C514.1 497.5 515.2 500.4 516.2 501.7C517.1 502.9 518.9 503.8 519.5 504.2"/>
<path d="M462.0 561.7C462.8 561.2 465.1 560.1 467.0 559.2C468.9 558.2 471.4 556.7 473.7 555.8C475.9 555.0 478.1 554.4 480.3 554.2C482.6 553.9 485.2 553.8 487.0 554.2C488.8 554.6 490.2 555.4 491.2 556.7C492.1 557.9 492.6 560.8 492.8 561.7"/>
<path d="M489.5 568.3C489.4 569.2 488.5 571.7 488.7 573.3C488.8 575.0 489.5 577.1 490.3 578.3C491.2 579.6 492.4 580.7 493.7 580.8C494.9 581.0 497.1 579.4 497.8 579.2"/>
<path d="M513.7 563.3C514.1 564.4 515.2 567.9 516.2 570.0C517.1 572.1 518.0 574.2 519.5 575.8C521.0 577.5 523.5 579.6 525.3 580.0C527.1 580.4 528.7 579.1 530.3 578.3C532.0 577.6 534.2 575.6 535.3 575.3C536.5 575.1 537.2 575.8 537.3 576.7C537.5 577.6 537.1 579.7 536.2 580.8C535.3 581.9 533.8 582.5 532.0 583.3C530.2 584.2 526.4 585.4 525.3 585.8"/>
<path d="M548.7 578.3C548.5 579.2 548.7 581.7 547.8 583.3C547.0 585.0 545.5 587.1 543.7 588.3C541.9 589.6 539.5 590.1 537.0 590.8C534.5 591.5 530.9 591.8 528.7 592.5C526.4 593.2 525.2 593.9 523.7 595.0C522.1 596.1 520.2 598.5 519.5 599.2"/>
<path d="M556.2 558.3C557.1 557.8 559.9 555.8 562.0 555.0C564.1 554.2 566.9 553.7 568.7 553.3C570.5 553.0 572.1 553.1 572.8 553.0"/>
<path d="M572.8 566.7C572.3 566.9 570.6 567.2 569.5 568.3C568.4 569.4 566.7 572.5 566.2 573.3"/>
<path d="M563.7 590.0C563.4 590.8 562.8 593.5 562.0 595.0C561.2 596.5 559.2 598.5 558.7 599.2"/>
<path d="M482.0 599.2C481.7 597.9 480.3 593.9 480.3 591.7C480.3 589.4 480.9 587.1 482.0 585.8C483.1 584.6 485.4 584.0 487.0 584.2C488.6 584.3 490.3 585.4 491.7 586.7C493.1 587.9 493.6 590.3 495.3 591.7C497.1 593.1 499.5 594.3 502.0 595.0C504.5 595.7 508.9 595.7 510.3 595.8"/>
<path d="M292.7 490.0C291.3 490.3 287.1 490.8 284.3 491.7C281.6 492.5 278.0 493.8 276.0 495.0C274.0 496.2 272.5 497.9 272.3 499.2C272.2 500.4 273.4 501.9 275.2 502.5C276.9 503.1 280.0 502.9 282.7 502.5C285.3 502.1 287.7 500.4 291.0 500.0C294.3 499.6 298.8 499.7 302.7 500.0C306.6 500.3 311.0 501.1 314.3 501.7C317.7 502.2 320.4 502.6 322.7 503.3C324.9 504.0 326.5 504.4 327.7 505.8C328.8 507.2 329.7 509.6 329.7 511.7C329.7 513.8 329.1 516.5 327.7 518.3C326.2 520.1 323.2 521.4 321.0 522.5C318.8 523.6 316.0 523.8 314.3 525.0C312.7 526.2 311.4 528.1 311.0 530.0C310.6 531.9 311.6 534.4 311.8 536.7C312.1 538.9 313.1 541.7 312.7 543.3C312.2 545.0 309.9 546.1 309.3 546.7"/>
<path d="M298.5 538.3C298.6 537.6 300.0 534.9 299.3 534.2C298.6 533.5 296.3 533.6 294.3 534.2C292.4 534.7 289.3 536.4 287.7 537.5C286.0 538.6 284.3 539.3 284.3 540.8C284.3 542.4 286.3 544.7 287.7 546.7C289.1 548.6 291.4 550.3 292.7 552.5C293.9 554.7 294.3 557.4 295.2 560.0C296.0 562.6 296.6 565.6 297.7 568.3C298.8 571.1 300.2 574.3 301.8 576.7C303.5 579.0 305.9 581.4 307.7 582.5C309.5 583.6 311.3 584.0 312.7 583.3C314.1 582.6 315.2 580.6 316.0 578.3C316.8 576.1 316.9 572.8 317.3 570.0C317.8 567.2 317.3 564.0 318.5 561.7C319.7 559.3 322.8 557.5 324.3 555.8C325.9 554.2 327.0 553.8 327.7 551.7C328.4 549.6 327.7 545.6 328.5 543.3C329.3 541.1 330.9 539.9 332.7 538.3C334.5 536.8 337.1 535.6 339.3 534.2C341.6 532.8 344.2 531.0 346.0 530.0C347.8 529.0 349.3 528.6 350.0 528.3"/>
<path d="M236.0 533.3C236.6 534.4 237.9 537.9 239.3 540.0C240.7 542.1 242.8 544.5 244.3 545.8C245.9 547.2 247.1 547.7 248.5 548.0C249.9 548.3 252.0 547.6 252.7 547.5"/>
<path d="M267.7 561.7C268.8 561.7 272.5 561.4 274.3 562.0C276.1 562.6 277.4 563.5 278.5 565.0C279.6 566.5 279.8 568.6 280.7 570.8C281.5 573.1 282.5 576.0 283.5 578.3C284.5 580.7 286.1 582.8 286.8 585.0C287.5 587.2 287.7 589.3 287.7 591.7C287.7 594.0 287.0 597.9 286.8 599.2"/>
<path d="M236.0 500.0C237.1 499.3 240.4 496.8 242.7 495.8C244.9 494.9 247.4 494.6 249.3 494.2C251.3 493.7 253.1 493.7 254.3 493.0C255.6 492.3 256.4 490.5 256.8 490.0"/>
<path d="M282.7 523.3C282.7 522.6 283.9 521.8 284.7 521.7C285.4 521.5 286.9 522.0 287.3 522.5C287.8 523.0 287.8 524.1 287.3 524.7C286.9 525.2 285.4 526.1 284.7 525.8C283.9 525.6 282.7 524.0 282.7 523.3Z"/>
<path d="M236.0 401.7C236.4 400.6 237.4 397.4 238.5 395.0C239.6 392.6 240.9 389.6 242.7 387.5C244.5 385.4 247.0 383.8 249.3 382.5C251.7 381.2 255.6 380.4 256.8 380.0"/>
<path d="M273.5 391.7C273.1 393.3 271.7 398.3 271.0 401.7C270.3 405.0 269.8 408.3 269.3 411.7C268.9 415.0 268.4 418.9 268.5 421.7C268.6 424.4 269.2 426.1 270.2 428.3C271.1 430.6 272.7 432.9 274.3 435.0C276.0 437.1 278.5 438.9 280.2 440.8C281.8 442.8 283.7 444.6 284.3 446.7C285.0 448.8 284.5 451.5 284.0 453.3C283.5 455.1 281.8 456.8 281.3 457.5"/>
<path d="M293.5 380.0C292.7 381.0 289.7 383.9 288.5 385.8C287.3 387.8 286.4 389.9 286.5 391.7C286.6 393.5 288.9 395.8 289.3 396.7"/>
<path d="M300.2 415.0C301.1 415.8 304.3 418.5 306.0 420.0C307.7 421.5 309.3 422.5 310.2 424.2C311.0 425.8 311.4 428.2 311.0 430.0C310.6 431.8 308.4 433.2 307.7 435.0C307.0 436.8 306.3 438.9 306.8 440.8C307.4 442.8 309.5 444.9 311.0 446.7C312.5 448.5 314.1 450.6 316.0 451.7C317.9 452.8 320.2 452.8 322.7 453.3C325.2 453.9 328.5 454.0 331.0 455.0C333.5 456.0 335.4 457.9 337.7 459.2C339.9 460.4 342.3 461.7 344.3 462.5C346.4 463.3 349.1 463.9 350.0 464.2"/>
<path d="M306.0 458.3C307.1 458.6 310.4 459.4 312.7 460.0C314.9 460.6 317.4 460.6 319.3 461.7C321.3 462.8 323.1 464.7 324.3 466.7C325.6 468.6 326.1 471.1 326.8 473.3C327.5 475.6 327.2 478.2 328.5 480.0C329.8 481.8 332.0 483.1 334.3 484.2C336.7 485.3 341.3 486.2 342.7 486.7"/>
<path d="M302.7 470.0C303.2 470.8 304.9 473.3 306.0 475.0C307.1 476.7 309.3 478.5 309.3 480.0C309.3 481.5 307.7 483.1 306.0 484.2C304.3 485.3 301.6 485.8 299.3 486.7C297.1 487.5 293.8 488.8 292.7 489.2"/>
<path d="M312.3 380.0C312.5 381.2 312.6 385.3 313.5 387.5C314.4 389.7 315.9 391.5 317.7 393.3C319.5 395.1 322.1 397.2 324.3 398.3C326.6 399.4 329.3 400.6 331.0 400.0C332.7 399.4 333.2 396.8 334.3 395.0C335.4 393.2 336.0 390.8 337.7 389.2C339.3 387.5 342.3 386.0 344.3 385.0C346.4 384.0 349.1 383.6 350.0 383.3"/>
<path d="M350.0 409.7C349.1 409.7 346.1 409.5 344.3 410.0C342.6 410.5 341.0 411.8 339.3 412.5C337.7 413.2 336.3 414.0 334.3 414.2C332.4 414.3 329.9 413.9 327.7 413.3C325.4 412.8 322.9 411.8 321.0 410.8C319.1 409.9 316.6 406.7 316.0 407.5C315.4 408.3 317.1 413.1 317.7 415.8C318.2 418.6 318.8 421.5 319.3 424.2C319.9 426.8 320.9 429.4 321.0 431.7C321.1 433.9 319.6 436.0 320.2 437.5C320.7 439.0 323.1 439.9 324.3 440.8C325.6 441.8 326.8 441.9 327.7 443.3C328.5 444.7 327.9 447.4 329.3 449.2C330.7 451.0 333.5 452.6 336.0 454.2C338.5 455.7 342.0 457.4 344.3 458.3C346.7 459.3 349.1 459.7 350.0 460.0"/>
<path d="M331.8 446.7C332.5 447.4 334.6 449.7 336.0 450.8C337.4 451.9 339.5 452.9 340.2 453.3"/>
<path d="M334.3 445.8 L338.5 449.2"/>
<path d="M346.3 398.3C346.6 397.2 347.1 393.1 347.7 391.7C348.3 390.3 349.6 390.3 350.0 390.0"/>
<path d="M242.3 427.5C242.4 426.8 243.3 425.8 244.0 425.5C244.7 425.2 245.7 425.4 246.3 425.8C246.9 426.2 247.7 427.3 247.7 428.0C247.6 428.7 246.7 429.7 246.0 430.0C245.3 430.3 244.1 430.1 243.5 429.7C242.9 429.2 242.2 428.2 242.3 427.5Z"/>
<path d="M236.0 327.5C237.1 328.3 240.4 331.0 242.7 332.5C244.9 334.0 246.6 335.8 249.3 336.7C252.1 337.5 256.0 337.8 259.3 337.5C262.7 337.2 266.3 336.4 269.3 335.0C272.4 333.6 275.4 331.4 277.7 329.2C279.9 326.9 281.7 324.3 282.7 321.7C283.6 319.0 283.8 316.1 283.5 313.3C283.2 310.6 282.1 307.2 281.0 305.0C279.9 302.8 277.9 301.1 276.8 300.0C275.8 298.9 275.0 298.6 274.7 298.3"/>
<path d="M236.8 316.7 L245.2 317.5"/>
<path d="M281.8 285.0C282.5 285.3 284.5 286.8 286.0 286.7C287.5 286.5 289.8 285.0 291.0 284.2C292.2 283.3 293.1 282.1 293.5 281.7"/>
<path d="M284.3 298.3C285.4 298.8 289.1 299.9 291.0 300.8C292.9 301.8 294.8 302.6 296.0 304.2C297.2 305.7 298.2 307.6 298.5 310.0C298.8 312.4 298.5 315.8 297.7 318.3C296.8 320.8 294.8 322.9 293.5 325.0C292.2 327.1 290.3 329.9 289.7 330.8"/>
<path d="M310.2 280.8C309.8 282.1 308.4 285.7 308.0 288.3C307.6 291.0 307.2 294.2 307.7 296.7C308.2 299.2 309.5 301.7 311.0 303.3C312.5 305.0 315.0 306.5 316.8 306.7C318.6 306.8 320.6 305.0 321.8 304.2C323.1 303.3 323.9 302.1 324.3 301.7"/>
<path d="M329.3 323.3C329.8 324.7 330.7 329.0 331.8 331.7C332.9 334.3 334.2 337.1 336.0 339.2C337.8 341.2 340.3 342.9 342.7 344.2C345.0 345.4 348.8 346.2 350.0 346.7"/>
<path d="M283.5 376.7C283.6 374.7 283.9 368.6 284.3 365.0C284.8 361.4 284.9 357.8 286.0 355.0C287.1 352.2 288.8 350.1 291.0 348.3C293.2 346.5 296.6 345.3 299.3 344.2C302.1 343.1 304.9 342.2 307.7 341.7C310.4 341.1 313.2 340.6 316.0 340.8C318.8 341.1 321.8 342.2 324.3 343.3C326.8 344.4 329.4 345.8 331.0 347.5C332.6 349.2 333.9 351.4 334.0 353.3C334.1 355.3 332.9 357.5 331.8 359.2C330.8 360.8 328.5 361.9 327.7 363.3C326.8 364.7 326.3 366.1 326.8 367.5C327.4 368.9 329.2 370.6 331.0 371.7C332.8 372.8 335.4 373.9 337.7 374.2C339.9 374.4 342.3 374.0 344.3 373.3C346.4 372.6 349.1 370.6 350.0 370.0"/>
<path d="M292.7 381.7C292.8 380.8 293.5 378.6 293.5 376.7C293.5 374.7 293.4 372.2 292.7 370.0C292.0 367.8 290.0 365.4 289.3 363.3C288.6 361.2 288.1 359.0 288.5 357.5C288.9 356.0 290.3 354.9 291.8 354.2C293.4 353.5 295.9 353.1 297.7 353.3C299.5 353.6 301.6 354.2 302.7 355.8C303.8 357.5 303.6 361.0 304.3 363.3C305.0 365.7 305.7 368.1 306.8 370.0C307.9 371.9 310.0 373.1 311.0 375.0C312.0 376.9 312.4 380.0 312.7 381.7C312.9 383.3 312.4 384.4 312.3 385.0"/>
<path d="M339.3 316.7C339.1 317.8 337.5 321.1 337.7 323.3C337.8 325.6 339.1 328.2 340.2 330.0C341.3 331.8 342.7 333.1 344.3 334.2C346.0 335.3 349.1 336.2 350.0 336.7"/>
<path d="M204.3 361.7C205.4 361.5 208.6 361.2 211.0 360.8C213.4 360.4 216.0 359.7 218.5 359.2C221.0 358.6 223.9 357.6 226.0 357.5C228.1 357.4 229.9 357.6 231.0 358.3C232.1 359.0 232.7 360.4 232.7 361.7C232.7 362.9 232.0 364.8 231.0 365.8C230.0 366.9 228.8 367.6 226.8 368.0C224.9 368.4 222.0 367.9 219.3 368.3C216.7 368.7 213.6 369.7 211.0 370.3C208.4 370.9 204.8 371.7 203.5 372.0"/>
<path d="M199.3 389.2C200.4 389.4 203.9 389.9 206.0 390.8C208.1 391.8 210.3 393.5 211.8 395.0C213.4 396.5 214.2 398.1 215.2 400.0C216.1 401.9 216.8 404.7 217.3 406.7C217.9 408.6 217.6 410.6 218.5 411.7C219.4 412.7 220.9 413.4 222.7 413.0C224.5 412.6 227.2 410.6 229.3 409.2C231.4 407.7 233.6 406.0 235.2 404.2C236.7 402.4 237.8 400.3 238.5 398.3C239.2 396.4 238.6 394.4 239.3 392.5C240.0 390.6 241.0 388.2 242.7 386.7C244.3 385.1 246.8 384.3 249.3 383.3C251.8 382.4 255.2 381.9 257.7 380.8C260.2 379.7 262.4 378.5 264.3 376.7C266.3 374.9 267.7 372.2 269.3 370.0C271.0 367.8 272.7 365.8 274.3 363.3C276.0 360.8 277.7 358.1 279.3 355.0C281.0 351.9 282.9 348.1 284.3 345.0C285.7 341.9 286.8 339.2 287.7 336.7C288.5 334.2 289.1 331.1 289.3 330.0"/>
<path d="M283.3 371.7C283.2 372.2 283.5 373.1 282.7 375.0C281.9 376.9 280.0 380.8 278.5 383.3C277.0 385.8 274.3 388.9 273.5 390.0"/>
<path d="M198.5 396.7C199.2 397.2 201.4 398.3 202.7 400.0C203.9 401.7 205.3 403.9 206.0 406.7C206.7 409.4 206.8 413.3 206.8 416.7C206.8 420.0 206.0 423.3 206.0 426.7C206.0 430.0 206.6 434.4 206.8 436.7C207.1 438.9 207.5 439.4 207.7 440.0"/>
<path d="M194.3 413.3C194.5 415.0 194.9 420.0 195.2 423.3C195.4 426.7 195.6 430.6 196.0 433.3C196.4 436.1 197.4 438.9 197.7 440.0"/>
<path d="M241.0 330.0C241.6 330.7 242.7 333.0 244.3 334.2C246.0 335.3 248.5 336.4 251.0 337.0C253.5 337.6 256.6 337.7 259.3 337.5C262.1 337.3 265.2 336.7 267.7 335.8C270.2 335.0 272.7 333.5 274.3 332.5C276.0 331.5 277.1 330.4 277.7 330.0"/>
<path d="M242.3 427.5C242.4 426.8 243.3 425.8 244.0 425.5C244.7 425.2 245.8 425.4 246.3 425.8C246.9 426.2 247.4 427.3 247.3 428.0C247.2 428.7 246.3 429.7 245.7 430.0C245.0 430.3 243.9 430.1 243.3 429.7C242.8 429.2 242.2 428.2 242.3 427.5Z"/>
<path d="M253.5 472.7C254.5 471.6 257.8 468.5 259.3 466.0C260.9 463.5 261.8 460.4 262.7 457.7C263.5 454.9 265.7 452.0 264.3 449.3C262.9 446.7 257.7 443.6 254.3 441.8C251.0 440.0 247.7 438.4 244.3 438.5C241.0 438.6 237.1 441.1 234.3 442.7C231.6 444.2 228.9 446.0 227.7 447.7C226.4 449.3 227.2 450.2 226.8 452.7C226.5 455.2 225.7 459.6 225.7 462.7C225.7 465.7 225.7 468.8 226.8 471.0C228.0 473.2 231.7 475.2 232.7 476.0"/>
<path d="M211.0 465.2C212.2 466.1 216.1 469.2 218.5 471.0C220.9 472.8 223.4 474.1 225.2 476.0C227.0 477.9 228.2 479.9 229.3 482.7C230.4 485.4 231.0 489.9 231.8 492.7C232.7 495.4 233.1 498.2 234.3 499.3C235.6 500.4 237.4 500.0 239.3 499.3C241.3 498.6 243.5 496.0 246.0 495.2C248.5 494.3 252.4 495.3 254.3 494.3C256.3 493.4 256.7 491.6 257.7 489.3C258.6 487.1 259.2 483.4 260.2 481.0C261.1 478.6 262.4 476.8 263.5 475.2C264.6 473.5 266.3 471.7 266.8 471.0"/>
<path d="M201.8 473.5C203.1 473.9 206.7 475.4 209.3 476.0C212.0 476.6 215.6 476.0 217.7 476.8C219.8 477.7 221.1 478.9 221.8 481.0C222.6 483.1 222.6 487.1 222.3 489.3C222.1 491.6 220.8 492.7 220.2 494.3C219.5 496.0 218.8 498.5 218.5 499.3"/>
<path d="M300.0 486.0C298.8 486.6 295.3 488.4 292.7 489.3C290.1 490.3 287.0 491.0 284.3 491.8C281.7 492.7 278.8 493.2 276.8 494.3C274.9 495.4 273.1 497.2 272.7 498.5C272.2 499.8 272.9 501.1 274.3 501.8C275.7 502.5 278.2 502.9 281.0 502.7C283.8 502.4 287.8 500.9 291.0 500.2C294.2 499.5 298.5 498.8 300.0 498.5"/>
<path d="M221.0 517.7C221.8 518.8 224.3 522.1 226.0 524.3C227.7 526.6 229.3 529.1 231.0 531.0C232.7 532.9 234.6 534.2 236.0 536.0C237.4 537.8 238.1 540.2 239.3 541.8C240.6 543.5 242.8 545.3 243.5 546.0"/>
<path d="M282.7 523.0C282.7 522.3 283.9 521.2 284.7 521.0C285.4 520.8 286.9 521.3 287.3 521.8C287.7 522.4 287.5 523.8 287.0 524.3C286.5 524.9 285.1 525.6 284.3 525.3C283.6 525.1 282.6 523.7 282.7 523.0Z"/>
<path d="M300.0 532.7C298.8 533.1 295.0 534.1 292.7 535.2C290.3 536.3 287.4 537.9 286.0 539.3C284.6 540.7 284.3 542.4 284.3 543.5C284.3 544.6 285.7 545.6 286.0 546.0"/>
<path d="M194.3 436.0C194.6 436.7 194.9 438.8 196.0 440.2C197.1 441.6 199.3 444.2 201.0 444.3C202.7 444.5 204.9 442.4 206.0 441.0C207.1 439.6 207.4 436.8 207.7 436.0"/>
<path d="M354.5 560.8C355.4 560.0 358.0 557.4 360.0 555.8C362.0 554.3 364.2 552.8 366.7 551.7C369.2 550.6 372.2 548.9 375.0 549.2C377.8 549.4 380.6 552.1 383.3 553.3C386.1 554.6 389.2 555.3 391.7 556.7C394.2 558.1 397.2 560.8 398.3 561.7"/>
<path d="M417.5 552.5C418.8 552.6 421.8 552.8 425.0 553.3C428.2 553.9 432.8 555.0 436.7 555.8C440.6 556.7 444.7 557.6 448.3 558.3C451.9 559.0 455.7 559.5 458.3 560.0C460.9 560.5 463.1 561.1 464.0 561.3"/>
<path d="M354.5 570.8C355.1 571.7 357.0 573.9 358.3 575.8C359.7 577.8 361.2 581.0 362.5 582.5C363.8 584.0 365.3 584.6 365.8 585.0"/>
<path d="M385.0 591.7C386.1 591.4 389.4 590.7 391.7 590.0C393.9 589.3 396.1 587.8 398.3 587.5C400.6 587.2 402.8 587.6 405.0 588.3C407.2 589.0 409.7 590.4 411.7 591.7C413.6 592.9 415.0 595.0 416.7 595.8C418.3 596.7 420.0 597.4 421.7 596.7C423.3 596.0 425.1 593.8 426.7 591.7C428.2 589.6 430.1 586.2 430.8 584.2C431.5 582.1 431.4 580.6 430.8 579.2C430.3 577.8 427.8 576.9 427.5 575.8C427.2 574.7 428.2 573.2 429.2 572.5C430.1 571.8 431.5 571.1 433.3 571.7C435.1 572.2 437.9 573.9 440.0 575.8C442.1 577.8 444.0 580.8 445.8 583.3C447.6 585.8 449.7 588.3 450.8 590.8C451.9 593.3 452.2 597.1 452.5 598.3"/>
<path d="M437.5 541.7C438.1 542.4 439.0 544.7 440.8 545.8C442.6 546.9 445.7 547.8 448.3 548.3C451.0 548.9 454.1 549.2 456.7 549.2C459.3 549.2 462.8 548.5 464.0 548.3"/>
<path d="M223.3 537.6C224.1 538.0 226.6 538.8 227.7 540.1C228.9 541.4 230.0 543.0 230.3 545.1C230.5 547.2 229.8 550.7 229.0 552.7C228.2 554.7 225.8 556.3 225.2 557.1"/>
<path d="M234.0 596.1C234.8 596.3 237.2 596.9 238.4 597.3C239.7 597.7 241.0 598.4 241.6 598.6"/>
<path d="M227.7 591.9C228.0 591.7 228.7 590.5 229.2 590.4C229.8 590.4 230.8 591.1 230.9 591.7C230.9 592.2 229.8 593.2 229.6 593.6"/>
<path d="M536.2 450.8C536.6 451.2 538.1 451.9 538.7 453.3C539.2 454.7 539.8 457.4 539.5 459.2C539.2 461.0 538.2 463.0 537.0 464.2C535.8 465.4 533.5 466.2 532.0 466.3C530.5 466.5 528.8 465.9 527.8 465.0C526.9 464.1 526.0 462.4 526.2 460.8C526.3 459.3 528.2 456.7 528.7 455.8"/>
<path d="M543.7 447.5C544.4 448.3 546.3 451.1 547.8 452.5C549.4 453.9 551.6 454.3 552.8 455.8C554.1 457.4 555.3 459.7 555.3 461.7C555.3 463.6 554.2 465.8 552.8 467.5C551.4 469.2 549.1 470.7 547.0 471.7C544.9 472.6 542.0 472.9 540.3 473.3C538.7 473.8 537.6 474.0 537.0 474.2"/>
<path d="M552.0 445.0C553.1 445.7 556.6 447.4 558.7 449.2C560.8 451.0 563.1 453.5 564.5 455.8C565.9 458.2 566.6 460.7 567.0 463.3C567.4 466.0 567.5 469.4 566.7 471.7C565.8 473.9 563.8 475.4 562.0 476.7C560.2 477.9 557.1 478.8 556.2 479.2"/>
<path d="M549.5 420.0C549.6 421.0 549.9 424.2 550.3 425.8C550.8 427.5 551.7 429.3 552.0 430.0"/>
<path d="M462.0 436.7C462.7 436.5 464.9 436.1 466.2 435.8C467.4 435.6 468.9 435.1 469.5 435.0"/>
<path d="M477.0 448.3C476.4 449.2 474.8 451.8 473.7 453.3C472.6 454.9 470.9 456.8 470.3 457.5"/>
<path d="M483.7 471.7C484.2 472.2 485.7 474.2 487.0 475.0C488.3 475.8 490.1 476.2 491.7 476.7C493.2 477.1 495.4 477.4 496.2 477.5"/>
<path d="M526.2 493.3C527.1 492.6 529.6 490.1 532.0 489.2C534.4 488.2 537.8 487.9 540.3 487.5C542.8 487.1 545.9 486.8 547.0 486.7"/>
</g>
<g id="lab" class="cl" text-anchor="middle">
<text transform="translate(434.0,130.0) rotate(70)" y="3.9">23</text>
<text transform="translate(516.0,121.2) rotate(-10)" y="3.9">23</text>
<text transform="translate(441.0,175.0) rotate(55)" y="3.9">22</text>
<text transform="translate(499.0,144.5) rotate(65)" y="3.9">22</text>
<text transform="translate(472.2,215.0) rotate(70)" y="3.9">24</text>
<text transform="translate(413.8,197.5) rotate(30)" y="3.9">23</text>
<text transform="translate(383.1,206.3) rotate(-60)" y="3.9">24</text>
<text transform="translate(413.8,214.0) rotate(-5)" y="3.9">23</text>
<text transform="translate(401.4,236.3) rotate(-65)" y="3.9">22</text>
<text transform="translate(545.3,243.3) rotate(-20)" y="3.9">24</text>
<text transform="translate(525.3,250.3) rotate(20)" y="3.9">23</text>
<text transform="translate(506.2,299.2) rotate(55)" y="3.9">22</text>
<text transform="translate(525.3,301.7) rotate(75)" y="3.9">23</text>
<text transform="translate(545.3,287.5) rotate(60)" y="3.9">22</text>
<text transform="translate(558.7,279.2) rotate(-45)" y="3.9">22</text>
<text transform="translate(375.8,371.7) rotate(-35)" y="3.9">24</text>
<text transform="translate(402.5,353.3) rotate(30)" y="3.9">24</text>
<text transform="translate(387.0,380.0) rotate(25)" y="3.9">23</text>
<text transform="translate(437.5,331.7) rotate(-20)" y="3.9">23</text>
<text transform="translate(418.3,407.5) rotate(-60)" y="3.9">22</text>
<text transform="translate(424.2,428.3) rotate(-65)" y="3.9">22</text>
<text transform="translate(356.7,417.5) rotate(60)" y="3.9">23</text>
<text transform="translate(552.0,375.8) rotate(0)" y="3.9">23</text>
<text transform="translate(570.3,366.7) rotate(-75)" y="3.9">24</text>
<text transform="translate(560.3,434.2) rotate(80)" y="3.9">22</text>
<text transform="translate(466.2,374.2) rotate(80)" y="3.9">24</text>
<text transform="translate(521.7,337.0) rotate(20)" y="3.9">2</text>
<text transform="translate(416.3,466.7) rotate(-50)" y="3.9">23</text>
<text transform="translate(380.0,475.8) rotate(-35)" y="3.9">24</text>
<text transform="translate(356.7,491.7) rotate(10)" y="3.9">25</text>
<text transform="translate(445.8,481.7) rotate(-45)" y="3.9">23</text>
<text transform="translate(394.2,528.3) rotate(-55)" y="3.9">25</text>
<text transform="translate(419.2,525.0) rotate(60)" y="3.9">25</text>
<text transform="translate(459.2,525.8) rotate(-60)" y="3.9">26</text>
<text transform="translate(412.0,442.5) rotate(-70)" y="3.9">2</text>
<text transform="translate(462.5,462.5) rotate(-60)" y="3.9">2</text>
<text transform="translate(521.2,499.2) rotate(80)" y="3.9">24</text>
<text transform="translate(524.5,493.3) rotate(80)" y="3.9">23</text>
<text transform="translate(517.8,514.7) rotate(-5)" y="3.9">25</text>
<text transform="translate(474.5,547.5) rotate(0)" y="3.9">25</text>
<text transform="translate(502.0,561.7) rotate(0)" y="3.9">24</text>
<text transform="translate(499.5,570.0) rotate(80)" y="3.9">24</text>
<text transform="translate(553.3,567.5) rotate(-65)" y="3.9">25</text>
<text transform="translate(567.0,579.2) rotate(-60)" y="3.9">25</text>
<text transform="translate(301.0,547.5) rotate(30)" y="3.9">25</text>
<text transform="translate(256.8,557.5) rotate(40)" y="3.9">24</text>
<text transform="translate(320.2,595.8) rotate(-20)" y="3.9">25</text>
<text transform="translate(295.2,405.8) rotate(60)" y="3.9">24</text>
<text transform="translate(301.0,461.7) rotate(-70)" y="3.9">25</text>
<text transform="translate(254.3,314.2) rotate(-55)" y="3.9">27</text>
<text transform="translate(278.5,294.2) rotate(-50)" y="3.9">5</text>
<text transform="translate(331.3,314.2) rotate(-75)" y="3.9">25</text>
<text transform="translate(245.2,479.0) rotate(-15)" y="3.9">26</text>
<text transform="translate(244.3,456.0) rotate(-85)" y="3.9">27</text>
<text transform="translate(274.3,462.7) rotate(-50)" y="3.9">25</text>
<text transform="translate(205.0,464.7) rotate(-10)" y="3.9">5</text>
<text transform="translate(407.5,556.7) rotate(-35)" y="3.9">24</text>
<text transform="translate(374.7,588.3) rotate(15)" y="3.9">24</text>
<text transform="translate(537.8,446.7) rotate(-10)" y="3.9">23</text>
<text transform="translate(527.0,460.0) rotate(80)" y="3.9">25</text>
<text transform="translate(465.3,460.8) rotate(-15)" y="3.9">24</text>
<text transform="translate(482.0,481.7) rotate(-60)" y="3.9">3</text>
</g>
<g id="white" fill="#F4F4F4" shape-rendering="crispEdges">
<polygon points="388.0,76.0 392.0,76.0 394.0,88.0 404.0,94.6 406.0,103.0 408.0,116.0 408.4,127.0 404.0,129.0 401.5,122.0 399.0,117.0 395.0,107.0 391.0,100.0 392.0,90.0"/>
<polygon points="376.0,106.0 396.0,112.0 399.0,122.0 394.0,126.0 390.0,123.0 391.0,119.0 387.0,117.0 384.0,120.0 383.0,131.0 380.0,136.0 377.0,143.0 370.0,148.0 367.5,154.0 368.0,161.0 371.5,167.0 369.0,170.0 355.0,160.0 360.0,140.0 372.0,125.0"/>
<polygon points="415.3,78.3 420.4,77.5 419.1,83.3 417.2,87.7 414.1,86.5 411.0,84.6 411.6,82.1"/>
<polygon points="347.0,244.0 352.2,245.5 355.0,246.4 355.0,254.0 352.0,255.5 350.0,249.0"/>
<polygon points="364.2,238.3 366.0,239.0 366.5,247.7 364.5,247.7"/>
<polygon points="351.0,261.0 353.5,261.0 353.5,263.4 351.0,263.4"/>
<polygon points="346.0,283.0 348.4,283.0 348.4,285.0 346.0,285.0"/>
<polygon points="352.2,290.5 354.3,290.5 354.3,294.2 352.2,294.2"/>
<polygon points="234.6,298.9 236.4,295.8 241.5,290.7 244.0,293.2 241.5,296.4 237.7,298.9"/>
<polygon points="260.3,302.0 262.2,295.1 267.9,290.1 274.2,285.7 278.0,286.3 277.3,292.0 272.9,295.1 266.6,297.6 262.9,301.4"/>
<polygon points="225.8,312.1 227.6,310.8 232.0,315.3 230.2,317.1"/>
<polygon points="217.6,340.4 220.7,334.1 223.9,336.6 225.1,340.4 221.4,342.9 218.2,344.2"/>
<polygon points="321.9,301.5 324.4,292.0 326.3,290.2 328.8,296.4 326.9,302.1 323.8,303.4"/>
<polygon points="336.0,292.5 341.0,294.6 337.0,296.0"/>
<polygon points="191.0,428.0 196.3,429.0 197.3,441.8 199.8,447.7 201.6,454.3 201.4,461.0 202.6,469.0 199.0,468.0 192.0,450.0"/>
<polygon points="226.0,440.0 231.0,440.0 231.0,444.0 226.0,444.0"/>
<polygon points="195.0,404.0 198.3,404.0 197.5,412.0 195.0,412.0"/>
<polygon points="350.8,317.8 354.2,321.0 357.7,324.1 359.6,327.6 361.5,324.1 362.8,320.3 364.7,324.1 364.7,329.8 360.3,335.4 355.8,341.1 351.4,341.7 349.2,339.2 350.2,332.9 349.6,325.4"/>
<polygon points="377.2,309.7 379.7,310.3 382.3,317.8 384.2,322.9 382.9,327.9 379.7,329.8 377.2,326.6 376.6,321.6 375.3,317.2 376.0,312.8"/>
<polygon points="379.1,288.9 381.6,287.0 384.8,289.5 384.2,293.3 381.6,295.8 379.1,293.3"/>
<polygon points="470.0,182.5 470.0,177.5 472.5,172.5 480.0,170.0 482.5,162.5 485.8,159.2 488.0,160.0 488.3,168.3 490.0,175.0 490.8,185.0 485.0,184.2 478.3,182.5 473.3,184.2"/>
<polygon points="494.2,186.7 494.2,180.8 497.5,176.7 499.2,170.0 502.5,164.2 508.3,162.5 512.5,163.3 513.3,171.7 512.5,181.7 514.2,188.3 518.3,185.8 521.7,180.0 526.7,172.5 531.7,165.8 533.3,158.3 534.2,150.0 537.5,144.2 543.3,145.8 550.0,145.8 555.0,150.0 558.3,155.0 556.7,158.3 553.3,165.8 548.3,164.2 541.7,165.0 536.7,173.3 531.7,182.5 527.5,191.7 525.0,199.2 520.0,202.5 511.7,202.5 509.2,198.3 505.0,193.3 498.3,190.8"/>
<polygon points="560.8,155.8 566.7,155.0 571.7,160.8 573.0,175.0 569.2,178.3 565.0,173.3 563.3,165.0"/>
<polygon points="503.5,130.5 511.2,130.5 511.2,137.2 503.5,137.2"/>
<polygon points="441.2,160.0 444.0,158.8 446.2,162.0 446.2,170.0 441.2,170.0"/>
<polygon points="432.0,165.0 436.2,163.8 436.2,171.2 432.0,171.2"/>
<polygon points="442.5,206.0 447.5,205.0 447.5,215.0 446.0,223.8 442.5,223.8"/>
<polygon points="561.2,270.0 565.0,265.0 573.0,267.5 573.0,276.2 565.0,277.5"/>
<polygon points="528.8,315.0 535.0,310.0 537.5,305.0 542.5,303.8 546.2,310.0 550.0,315.0 557.5,317.5 573.0,316.2 573.0,343.8 568.8,342.5 565.0,335.0 560.0,328.8 555.0,326.2 550.0,330.0 545.0,322.5 540.0,325.0 532.5,325.0 528.8,321.2"/>
<polygon points="501.2,314.0 505.0,311.2 510.0,312.0 512.5,316.0 511.0,320.0 506.0,321.2 502.0,319.0"/>
<polygon points="523.8,300.0 527.0,298.8 530.0,301.0 529.0,306.2 524.5,305.5"/>
<polygon points="508.8,341.0 513.0,337.5 520.0,338.0 522.5,342.0 519.0,346.5 512.0,347.5 509.0,345.0"/>
<polygon points="498.8,331.2 501.0,332.0 503.8,339.0 502.5,341.2 500.0,338.0"/>
<polygon points="428.8,324.0 432.0,320.0 436.5,321.0 438.8,326.0 436.0,331.5 431.0,332.5 429.0,329.0"/>
<polygon points="426.2,391.0 429.0,388.8 432.5,389.5 433.8,392.5 431.0,395.0 427.5,394.5"/>
<polygon points="459.7,358.3 464.1,356.8 467.8,357.0 470.0,352.5 472.5,351.5 474.4,353.2 476.2,359.0 477.5,365.0 481.0,368.5 485.0,368.8 491.2,367.5 496.2,363.8 497.5,357.5 501.2,356.2 503.8,365.0 510.0,366.2 517.5,367.5 521.2,363.8 526.2,357.5 530.0,358.8 532.5,367.5 538.8,371.2 541.2,376.2 537.5,381.2 530.0,383.8 525.0,388.8 517.5,387.5 512.5,382.5 508.8,381.2 505.0,386.2 505.0,393.8 510.0,400.0 517.5,402.5 523.8,403.8 535.0,402.5 545.0,403.8 555.0,405.0 565.0,405.5 573.0,406.2 573.0,415.0 565.0,413.8 555.0,412.5 545.0,412.5 535.0,413.8 525.0,415.0 517.5,413.8 512.5,416.2 505.0,415.0 497.5,416.2 493.8,412.5 492.5,405.0 488.8,400.5 482.7,399.0 479.0,402.5 478.3,410.0 477.0,417.6 474.5,420.8 470.0,416.4 463.8,414.0 458.8,412.6 456.3,408.8 457.5,407.3 464.1,404.3 466.3,398.5 467.0,388.2 469.2,382.4 472.9,375.0 475.0,366.3 474.4,361.0 469.5,360.5 468.5,365.0 467.0,369.2 463.4,370.7 459.7,369.2 457.5,366.3 457.5,363.4"/>
<polygon points="402.9,451.5 407.3,450.1 414.6,445.7 416.8,436.9 418.3,431.1 422.7,430.4 423.4,436.9 422.7,444.2 423.4,453.0 421.9,457.4 417.5,456.7 414.6,454.5 408.8,458.1 403.7,457.4"/>
<polygon points="431.4,423.0 435.1,423.0 435.1,427.4 431.4,427.4"/>
<polygon points="440.9,432.5 443.9,430.4 449.7,431.4 454.8,430.4 459.2,432.5 460.7,438.4 459.9,445.7 458.5,451.5 458.5,458.9 460.2,464.0 458.5,469.8 456.3,472.7 453.4,471.3 451.5,466.2 450.4,462.1 445.3,460.3 439.5,463.5 433.9,465.4 430.0,463.2 427.0,458.1 428.5,454.8 433.3,450.8 436.5,454.2 442.4,457.7 449.0,460.6 452.9,458.9 454.4,453.3 452.9,447.5 449.7,444.2 443.9,443.5 440.5,441.3 441.2,436.9"/>
<polygon points="539.2,433.3 544.3,431.8 551.6,432.5 554.6,436.9 553.8,442.0 550.2,445.0 544.3,442.8 539.2,441.3"/>
<polygon points="564.1,442.0 567.7,439.1 573.6,439.1 573.6,457.4 567.7,458.1 562.6,454.5 559.0,450.1 561.1,446.4"/>
<polygon points="544.3,479.3 550.2,477.1 554.6,479.3 558.9,481.5 564.8,480.8 567.0,485.2 566.3,489.6 561.9,491.8 556.0,489.6 553.1,494.7 551.6,499.1 548.7,498.3 548.0,491.0 547.3,485.2 544.3,482.3"/>
<polygon points="494.6,494.7 499.0,491.8 506.3,491.0 512.2,490.3 515.8,492.5 514.4,496.9 509.2,497.6 504.9,495.4 499.0,496.1 495.4,496.9"/>
<polygon points="498.0,586.0 501.0,583.8 504.5,585.5 505.0,589.0 502.0,591.2 498.5,590.0"/>
<polygon points="563.8,517.5 568.8,517.5 568.8,522.5 563.8,522.5"/>
<polygon points="335.8,421.7 339.2,415.0 342.5,417.5 345.0,425.0 345.0,431.7 340.8,437.5 335.8,440.3 329.2,440.0 325.8,435.0 325.0,429.2 328.3,426.3 334.2,425.0"/>
<polygon points="339.2,451.7 343.3,448.7 350.0,449.2 355.0,450.0 355.8,455.0 353.3,459.2 346.7,460.0 340.8,458.3 338.7,455.0"/>
<polygon points="362.5,436.7 366.7,433.0 370.0,435.8 368.3,440.8 363.3,442.0"/>
<polygon points="316.7,400.8 320.0,400.8 320.0,403.7 316.7,403.7"/>
<polygon points="388.8,511.0 393.8,511.0 393.8,516.0 388.8,516.0"/>
<polygon points="379.0,289.0 384.0,287.0 384.0,296.0 379.0,296.0"/>
<polygon points="470.1,431.9 472.6,427.5 475.8,428.1 478.9,430.7 483.9,431.9 488.3,430.7 492.1,431.9 492.1,469.7 488.3,469.0 489.0,460.2 490.0,453.9 489.0,447.6 485.2,445.1 480.2,445.8 477.0,448.3 473.9,447.0 471.4,442.6 469.5,437.6"/>
<polygon points="471.4,467.8 473.9,462.7 477.6,461.5 483.9,461.5 488.3,459.6 492.1,460.2 492.1,470.3 489.0,469.7 486.4,470.9 483.3,471.5 478.9,470.9 475.1,472.2 473.2,475.3 473.9,479.1 476.4,482.9 480.2,486.0 484.6,486.6 488.3,484.1 490.8,480.3 491.7,479.1 491.7,502.4 490.8,502.4 488.3,500.5 487.1,495.4 484.6,490.4 480.2,489.2 476.4,492.9 473.9,495.4 470.7,494.8 468.8,490.4 465.1,487.3 462.5,483.5 463.8,479.1 467.6,474.1"/>
<polygon points="491.5,431.9 492.7,436.3 497.8,436.9 502.8,436.3 506.6,438.2 510.3,435.1 516.6,432.5 521.7,430.7 524.2,432.5 524.2,438.8 526.7,443.9 530.5,447.6 533.6,449.5 530.5,450.8 527.3,453.9 525.4,459.0 526.1,465.3 529.2,469.7 535.5,472.8 541.0,474.7 536.8,477.8 531.7,480.3 525.4,481.0 520.4,479.1 515.4,475.3 510.3,472.8 505.3,473.4 499.0,475.3 496.5,471.5 491.5,468.4"/>
</g>

<ellipse cx="516.6" cy="453.3" rx="6.3" ry="9.4" fill="#FFAE00"/>
<g id="land" fill="#666666" stroke="#000" stroke-width="1" stroke-linejoin="round" shape-rendering="crispEdges">
<polygon points="60.0,60.0 389.0,60.0 389.0,76.0 390.0,82.0 392.0,88.0 393.0,95.0 392.0,101.0 395.0,107.0 398.0,112.0 400.0,118.0 401.0,122.0 397.0,120.5 394.0,114.0 390.0,112.0 385.0,113.5 380.0,114.0 377.0,108.5 376.0,110.0 377.5,113.5 379.0,122.0 379.5,131.0 380.0,134.0 375.0,137.0 370.0,141.0 365.0,146.0 362.0,149.0 360.0,154.0 362.0,160.0 366.5,165.0 371.5,169.0 369.5,173.0 371.0,176.5 366.5,177.7 362.7,177.0 359.6,177.7 358.3,182.8 352.6,184.0 350.0,188.4 346.4,189.7 341.3,189.0 339.4,196.6 341.3,199.0 346.4,198.5 348.9,199.7 355.2,200.4 360.8,201.6 362.7,204.0 360.8,210.4 357.0,214.0 351.0,219.0 345.0,224.0 347.0,228.0 351.6,231.4 354.0,235.0 354.3,240.0 352.2,246.4 347.8,244.6 348.5,246.0 351.0,248.3 352.0,252.0 352.8,255.2 351.0,261.5 353.5,265.3 354.0,269.0 342.8,269.7 344.7,273.5 346.5,277.9 345.9,283.6 348.4,284.8 351.6,282.9 354.0,281.4 354.2,290.8 356.5,292.0 359.0,297.7 360.9,302.7 362.8,310.3 364.0,316.6 364.0,319.7 362.1,321.0 361.5,324.7 359.6,327.6 357.7,324.1 354.2,321.0 352.7,320.3 350.2,317.2 347.0,315.3 342.0,315.3 342.0,312.2 344.5,307.8 343.3,304.0 340.8,305.9 337.6,304.0 332.6,302.7 333.8,299.6 337.0,296.4 340.8,294.6 336.4,292.0 334.5,289.5 332.6,287.0 329.4,287.0 327.5,285.1 323.8,288.9 320.0,290.8 322.5,292.5 317.5,290.0 314.0,285.0 311.2,280.0 300.0,279.5 291.0,280.7 280.5,283.8 274.2,285.7 267.9,290.1 262.2,295.1 259.1,298.3 254.1,297.6 252.2,292.0 247.8,292.0 244.0,293.2 241.5,290.7 236.4,295.8 233.3,301.4 227.6,304.6 230.2,309.0 225.8,312.1 229.5,317.1 232.0,316.5 236.4,314.0 236.4,319.0 234.6,324.7 230.2,327.2 223.9,328.5 220.7,331.6 217.6,340.4 212.5,349.2 208.8,356.8 206.5,360.0 202.7,370.0 199.6,380.0 198.0,390.0 196.7,400.4 195.8,411.8 195.0,412.5 193.8,425.0 194.5,437.5 196.2,450.0 198.8,462.5 202.5,473.8 210.0,482.5 214.5,490.0 216.2,505.0 220.0,520.0 221.4,525.0 223.0,537.6 224.2,550.0 225.2,562.7 225.8,575.3 224.6,581.6 227.0,590.4 228.4,599.0 228.4,620.0 60.0,620.0"/>
<polygon points="400.3,60.0 420.4,60.0 419.7,78.9 415.3,78.3 410.9,83.3 411.6,85.8 415.3,88.4 414.7,92.1 410.3,95.3 406.5,93.4 404.7,87.1 401.5,83.3 399.6,79.5"/>
<polygon points="353.5,238.5 363.0,236.4 364.3,238.3 365.4,246.4 363.0,249.6 358.0,250.2 355.0,249.5 353.5,246.0"/>
<polygon points="383.9,120.4 387.0,117.9 390.2,119.2 389.6,123.6 388.3,127.3 391.4,130.5 389.6,132.4 386.4,130.5 385.8,124.8 383.9,122.3"/>
<polygon points="369.7,317.8 372.2,315.3 375.3,317.2 376.6,321.6 376.0,326.0 372.8,325.4 370.3,322.9"/>
<polygon points="343.9,327.9 345.8,326.4 348.3,329.2 350.8,332.9 351.4,336.7 349.6,337.0 347.0,334.2 344.5,331.7"/>
<polygon points="256.6,303.3 259.1,300.8 265.4,309.0 262.9,311.5 260.3,307.7"/>
<polygon points="358.5,262.8 361.6,264.7 363.5,269.1 362.9,271.6 361.0,270.3 359.1,266.6"/>
<polygon points="355.0,281.0 359.1,281.7 362.9,284.2 362.3,288.0 359.1,289.2 355.0,288.6"/>
</g>
<g id="grid" fill="#000" shape-rendering="crispEdges">
<rect x="217" y="76" width="1" height="523"/>
<rect x="354" y="76" width="1" height="523"/>
<rect x="491" y="76" width="1" height="523"/>
<rect x="81" y="250" width="492" height="1"/>
<rect x="81" y="424" width="492" height="1"/>
</g>
</g>
<g id="frame" shape-rendering="crispEdges">
<path d="M78 73H576V602H78Z M81 77H573V599H81Z" fill="#000" fill-rule="evenodd"/>
<rect x="81" y="74" width="66" height="1" fill="#fff"/>
<rect x="81" y="600" width="66" height="1" fill="#fff"/>
<rect x="218" y="74" width="66" height="1" fill="#fff"/>
<rect x="218" y="600" width="66" height="1" fill="#fff"/>
<rect x="355" y="74" width="67" height="1" fill="#fff"/>
<rect x="355" y="600" width="67" height="1" fill="#fff"/>
<rect x="492" y="74" width="67" height="1" fill="#fff"/>
<rect x="492" y="600" width="67" height="1" fill="#fff"/>
<rect x="79" y="74" width="1" height="1" fill="#fff"/><rect x="79" y="600" width="1" height="1" fill="#fff"/><rect x="574" y="600" width="1" height="1" fill="#fff"/><rect x="574" y="74" width="1" height="1" fill="#fff"/>
<rect x="79" y="164" width="1" height="85" fill="#fff"/>
<rect x="574" y="164" width="1" height="85" fill="#fff"/>
<rect x="79" y="338" width="1" height="85" fill="#fff"/>
<rect x="574" y="338" width="1" height="85" fill="#fff"/>
<rect x="79" y="512" width="1" height="87" fill="#fff"/>
<rect x="574" y="512" width="1" height="87" fill="#fff"/>
</g>
<text class="ax" x="47.7" y="82" textLength="26.5" lengthAdjust="spacingAndGlyphs">39°N</text>
<text class="ax" x="35.7" y="256" textLength="38.5" lengthAdjust="spacingAndGlyphs">38.5°N</text>
<text class="ax" x="47.7" y="430" textLength="26.5" lengthAdjust="spacingAndGlyphs">38°N</text>
<text class="ax" x="35.7" y="605" textLength="38.5" lengthAdjust="spacingAndGlyphs">37.5°N</text>
<text class="xl" x="59.0" y="619.3" textLength="43.5" lengthAdjust="spacingAndGlyphs">140.5°E</text>
<text class="xl" x="201.6" y="619.3" textLength="32.5" lengthAdjust="spacingAndGlyphs">141°E</text>
<text class="xl" x="333.1" y="619.3" textLength="43.5" lengthAdjust="spacingAndGlyphs">141.5°E</text>
<text class="xl" x="475.6" y="619.3" textLength="32.5" lengthAdjust="spacingAndGlyphs">142°E</text>
<text class="ti" x="172.3" y="54.2" textLength="310" lengthAdjust="spacingAndGlyphs">Temperture[-C] @ Depth[m]=Top</text>
<g id="cbar" shape-rendering="crispEdges">
<polygon points="592.5,77.5 599,70.5 605.5,77.5 605.5,600.5 599,607 592.5,600.5" fill="url(#cb)" stroke="#000" stroke-width="1"/>
<polygon points="593,77 599,71 605,77" fill="#F5CDA5"/>
<polygon points="593,601 599,606.5 605,601" fill="#FAD4F8"/>
<polygon points="592.5,77.5 599,70.5 605.5,77.5 605.5,600.5 599,607 592.5,600.5" fill="none" stroke="#000" stroke-width="1"/>
</g>
<text class="ax" x="610" y="82.0" textLength="13.3" lengthAdjust="spacingAndGlyphs">30</text>
<text class="ax" x="610" y="169.2" textLength="13.3" lengthAdjust="spacingAndGlyphs">25</text>
<text class="ax" x="610" y="256.3" textLength="13.3" lengthAdjust="spacingAndGlyphs">20</text>
<text class="ax" x="610" y="343.5" textLength="13.3" lengthAdjust="spacingAndGlyphs">15</text>
<text class="ax" x="610" y="430.7" textLength="13.3" lengthAdjust="spacingAndGlyphs">10</text>
<text class="ax" x="610" y="517.8" textLength="6.6" lengthAdjust="spacingAndGlyphs">5</text>
<text class="ax" x="610" y="605.0" textLength="6.6" lengthAdjust="spacingAndGlyphs">0</text>
<text class="odv" transform="translate(586.8,597.8) rotate(-90)" textLength="83" lengthAdjust="spacing">Ocean Data View</text>
</svg>
</body></html>
